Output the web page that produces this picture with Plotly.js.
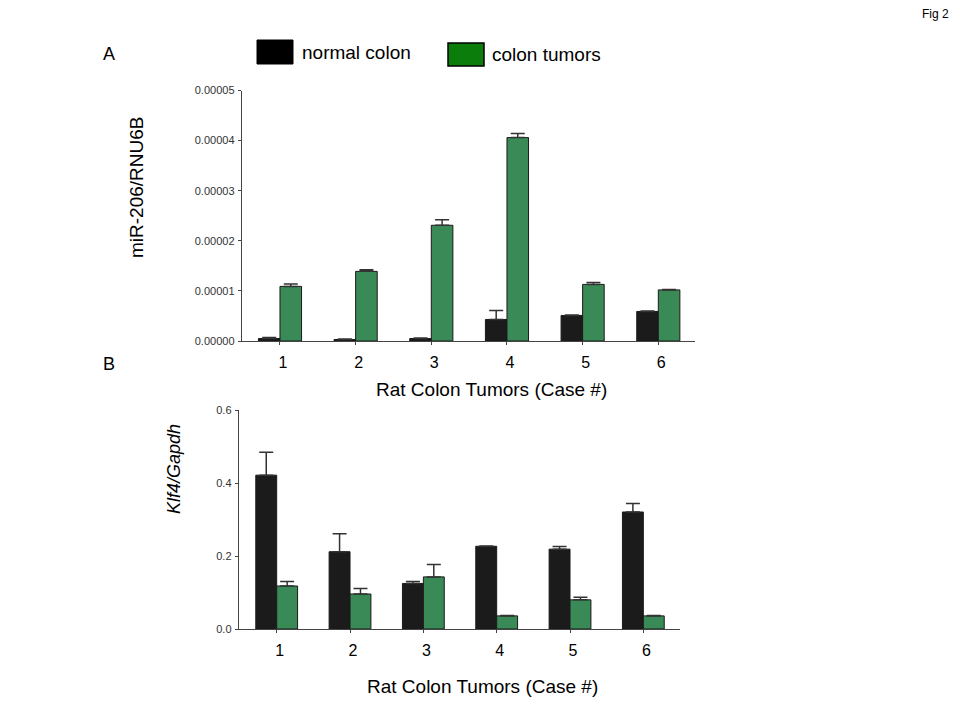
<!DOCTYPE html>
<html>
<head>
<meta charset="utf-8">
<script src="https://cdn.plot.ly/plotly-3.0.1.min.js"></script>
<style>html,body{margin:0;padding:0;background:#fff}#chart{width:960px;height:720px}</style>
</head>
<body>
<div id="chart"></div>
<script>
// Data
var cases = [1, 2, 3, 4, 5, 6];
var caseLabels = ["1", "2", "3", "4", "5", "6"];
var mirNormal = [0.0000005, 0.0000003, 0.0000005, 0.0000043, 0.0000051, 0.0000059];
var mirNormalErr = [0.0000002, 0.0000001, 0.0000001, 0.0000018, 0.0000001, 0.0000001];
var mirTumor = [0.0000109, 0.0000139, 0.0000231, 0.0000406, 0.0000113, 0.0000102];
var mirTumorErr = [0.0000005, 0.0000003, 0.0000011, 0.0000008, 0.0000004, 0.0000001];
var klfNormal = [0.422, 0.212, 0.125, 0.227, 0.219, 0.321];
var klfNormalErr = [0.063, 0.049, 0.005, 0.001, 0.007, 0.023];
var klfTumor = [0.118, 0.096, 0.143, 0.036, 0.080, 0.036];
var klfTumorErr = [0.012, 0.015, 0.034, 0.001, 0.007, 0.001];
var seriesNames = ["normal colon", "colon tumors"];

var font = "Liberation Sans, Arial, sans-serif";
var blackFill = "#1b1b1b", greenFill = "#3a8a57";
function zeros(n){var a=[];for(var i=0;i<n;i++)a.push(0);return a;}
function bar(y, err, color, name, xa, ya){
  return {type:"bar", x:cases, y:y, name:name, xaxis:xa, yaxis:ya, showlegend:false,
    marker:{color:color, line:{color:"#1a1a1a", width:1}},
    error_y:{type:"data", array:err, arrayminus:zeros(err.length), symmetric:false, color:"#333", thickness:1.5, width:7}};
}
var traces = [
  bar(mirNormal, mirNormalErr, blackFill, seriesNames[0], "x", "y"),
  bar(mirTumor, mirTumorErr, greenFill, seriesNames[1], "x", "y"),
  bar(klfNormal, klfNormalErr, blackFill, seriesNames[0], "x2", "y2"),
  bar(klfTumor, klfTumorErr, greenFill, seriesNames[1], "x2", "y2")
];
function px(x){return x/960;}
function py(y){return 1 - y/720;}
var xCommon = {tickmode:"array", tickvals:cases, ticktext:caseLabels, showline:true, linecolor:"#444", linewidth:1.3,
  ticks:"outside", ticklen:3, tickcolor:"#444", showgrid:false, zeroline:false,
  tickfont:{family:font, size:16, color:"#000"}, ticklabelstandoff:3, ticklabelshift:3, fixedrange:true};
var yTickFont = {family:font, size:11, color:"#333"};
var layout = {
  width:960, height:720, margin:{l:0,r:0,t:0,b:0,autoexpand:false}, paper_bgcolor:"#fff", plot_bgcolor:"#fff",
  barmode:"group", bargap:0.43, bargroupgap:0, showlegend:false,
  font:{family:font},
  xaxis:Object.assign({}, xCommon, {domain:[px(242), px(695)], range:[0.498, 6.485], anchor:"y"}),
  yaxis:{domain:[py(341), py(90.5)], range:[0, 0.00005], tickvals:[0,0.00001,0.00002,0.00003,0.00004,0.00005],
    ticktext:["0.00000","0.00001","0.00002","0.00003","0.00004","0.00005"], showline:true, linecolor:"#444", linewidth:1.3,
    ticks:"outside", ticklen:3, tickcolor:"#444", showgrid:false, zeroline:false, anchor:"x",
    tickfont:yTickFont, ticklabelstandoff:1},
  xaxis2:Object.assign({}, xCommon, {domain:[px(239), px(680)], range:[0.486, 6.5], anchor:"y2"}),
  yaxis2:{domain:[py(629), py(410.3)], range:[0, 0.6], tickvals:[0,0.2,0.4,0.6], ticktext:["0.0","0.2","0.4","0.6"],
    showline:true, linecolor:"#444", linewidth:1.3, ticks:"outside", ticklen:3, tickcolor:"#444", showgrid:false, zeroline:false, anchor:"x2",
    tickfont:yTickFont, ticklabelstandoff:1},
  shapes:[
    {type:"rect", xref:"paper", yref:"paper", x0:px(257), x1:px(293), y0:py(64), y1:py(40), fillcolor:"#000", line:{color:"#000", width:1}},
    {type:"rect", xref:"paper", yref:"paper", x0:px(448), x1:px(484), y0:py(66), y1:py(43), fillcolor:"#0a7d0a", line:{color:"#000", width:1.5}}
  ],
  annotations:[
    {text:"Fig 2", x:px(935), y:py(14)},
    {text:"A", x:px(109), y:py(54), size:18},
    {text:"B", x:px(109), y:py(364), size:18},
    {text:seriesNames[0], x:px(356), y:py(53), size:19},
    {text:seriesNames[1], x:px(546.5), y:py(55), size:19},
    {text:"miR-206/RNU6B", x:px(137), y:py(188), textangle:-90, size:19},
    {text:"<i>Klf4/Gapdh</i>", x:px(174), y:py(469), textangle:-90, size:18},
    {text:"Rat Colon Tumors (Case #)", x:px(491), y:py(389), size:19},
    {text:"Rat Colon Tumors (Case #)", x:px(482), y:py(686), size:19}
  ].map(function(a){
    return {text:a.text, x:a.x, y:a.y, xref:"paper", yref:"paper", xanchor:"center", yanchor:"middle",
      textangle:a.textangle||0, showarrow:false, font:{family:font, size:a.size||12, color:"#000"}};
  })
};
Plotly.newPlot("chart", traces, layout, {displayModeBar:false, staticPlot:true});
</script>
</body>
</html>
